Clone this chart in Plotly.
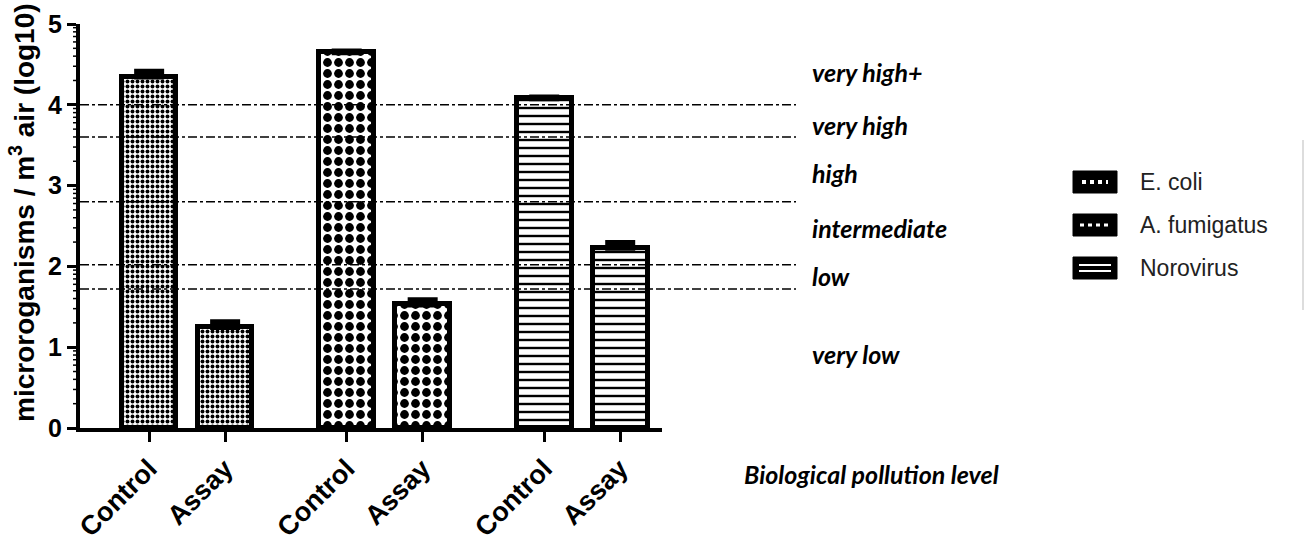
import math
import plotly.graph_objects as go

# ---- data ----
organisms = ["E. coli", "A. fumigatus", "Norovirus"]
conditions = ["Control", "Assay"]
ecoli_vals = [4.35, 1.25]
ecoli_err = [0.06, 0.06]
afum_vals = [4.65, 1.53]
afum_err = [0.01, 0.05]
noro_vals = [4.08, 2.23]
noro_err = [0.01, 0.06]
thresholds = [4.0, 3.6, 2.8, 2.02, 1.72]
level_names = ["very high+", "very high", "high", "intermediate", "low", "very low"]
level_label_y = [4.41, 3.75, 3.16, 2.48, 1.88, 0.91]
y_ticks = [0, 1, 2, 3, 4, 5]
y_title = "microroganisms / m<sup>3</sup> air (log10)"

series_vals = [ecoli_vals, afum_vals, noro_vals]
series_err = [ecoli_err, afum_err, noro_err]

patterns = [
    dict(shape=".", size=5, solidity=0.5, fgcolor="black", bgcolor="white", fgopacity=1),
    dict(shape=".", size=11, solidity=0.5, fgcolor="black", bgcolor="white", fgopacity=1),
    dict(shape="-", size=8, solidity=0.3, fgcolor="black", bgcolor="white", fgopacity=1),
]

# plot-area geometry in pixels (for paper-coordinate helpers)
L, R, T, B = 80, 662, 24, 428
def px(x):
    return (x - L) / (R - L)
def py(y):
    return (B - y) / (B - T)

GROUP_STEP = 2.6
fig = go.Figure()
tickvals, ticktext = [], []
for g, name in enumerate(organisms):
    xs = [g * GROUP_STEP + i for i in range(len(conditions))]
    tickvals += xs
    ticktext += conditions
    fig.add_trace(go.Bar(
        x=xs, y=series_vals[g], name=name, width=0.72,
        showlegend=False,
        marker=dict(color="white", pattern=patterns[g],
                    line=dict(color="black", width=5)),
        error_y=dict(type="data", array=series_err[g], arrayminus=[0, 0],
                     symmetric=False, color="black", thickness=6, width=15),
    ))

FONT = "Arial, Liberation Sans, sans-serif"
LBL = "Lato, Open Sans, sans-serif"

shapes = []
for t in thresholds:
    shapes.append(dict(type="line", xref="paper", yref="y", x0=0, x1=px(796),
                       y0=t, y1=t, line=dict(color="black", width=1.5, dash="dashdot")))
# log-like minor ticks on the y axis
for k in range(0, 5):
    for m in range(2, 10):
        yv = k + math.log10(m)
        shapes.append(dict(type="line", xref="paper", yref="y", x0=px(73), x1=0,
                           y0=yv, y1=yv, line=dict(color="black", width=1.5)))
# frame artifact at right edge
shapes.append(dict(type="line", xref="paper", yref="paper", x0=px(1303), x1=px(1303),
                   y0=py(310), y1=py(140), line=dict(color="#bbbbbb", width=1)))

annotations = []
annotations.append(dict(text=f"<b>{y_title}</b>", xref="paper", yref="paper",
                        x=px(22), y=py(213), xanchor="center", yanchor="middle",
                        textangle=-90, showarrow=False,
                        font=dict(family=FONT, size=28, color="black")))
for nm, yv in zip(level_names, level_label_y):
    annotations.append(dict(text=f"<b><i>{nm}</i></b>", xref="paper", yref="y",
                            x=px(810), y=yv, xanchor="left", yanchor="middle",
                            showarrow=False, font=dict(family=LBL, size=25, color="black")))
annotations.append(dict(text="<b><i>Biological pollution level</i></b>", xref="paper", yref="paper",
                        x=px(871), y=py(474), xanchor="center", yanchor="middle",
                        showarrow=False, font=dict(family=LBL, size=25, color="black")))

# legend (swatch + label per series)
legend_rows = [182, 225, 268]
for g, (name, ry) in enumerate(zip(organisms, legend_rows)):
    shapes.append(dict(type="rect", xref="paper", yref="paper",
                       x0=px(1073), x1=px(1117), y0=py(ry + 11), y1=py(ry - 11),
                       fillcolor="black", line=dict(color="black", width=1)))
    if g == 0:
        shapes.append(dict(type="line", xref="paper", yref="paper",
                           x0=px(1082), x1=px(1108), y0=py(ry), y1=py(ry),
                           line=dict(color="white", width=4, dash="dot")))
    elif g == 1:
        shapes.append(dict(type="line", xref="paper", yref="paper",
                           x0=px(1080), x1=px(1110), y0=py(ry), y1=py(ry),
                           line=dict(color="white", width=3, dash="4px,4px")))
    else:
        for dy in (-3, 3):
            shapes.append(dict(type="line", xref="paper", yref="paper",
                               x0=px(1079), x1=px(1111), y0=py(ry + dy), y1=py(ry + dy),
                               line=dict(color="white", width=2)))
    annotations.append(dict(text=name, xref="paper", yref="paper",
                            x=px(1138), y=py(ry), xanchor="left", yanchor="middle",
                            showarrow=False, font=dict(family=FONT, size=23, color="#222")))

fig.update_layout(
    width=1306, height=542,
    margin=dict(l=L, r=1306 - R, t=T, b=542 - B, autoexpand=False),
    plot_bgcolor="white", paper_bgcolor="white",
    bargap=0,
    shapes=shapes, annotations=annotations,
    showlegend=False,
    xaxis=dict(range=[-0.91, 6.75], tickvals=tickvals, ticktext=ticktext,
               tickangle=-45, ticks="outside", ticklen=10, tickwidth=3,
               tickcolor="black", showline=True, linewidth=4, linecolor="black",
               showgrid=False, zeroline=False, automargin=False,
               tickfont=dict(family=FONT, size=27, color="black", weight="bold")),
    yaxis=dict(range=[0, 5], tickvals=y_ticks, ticks="outside", ticklen=9,
               tickwidth=3, tickcolor="black", showline=True, linewidth=4,
               linecolor="black", showgrid=False, zeroline=False, automargin=False,
               tickfont=dict(family=FONT, size=25, color="black", weight="bold")),
)

fig.write_html("out.html", config={"displayModeBar": False},
               post_script="document.body.style.margin='0';document.body.style.overflow='hidden';")
